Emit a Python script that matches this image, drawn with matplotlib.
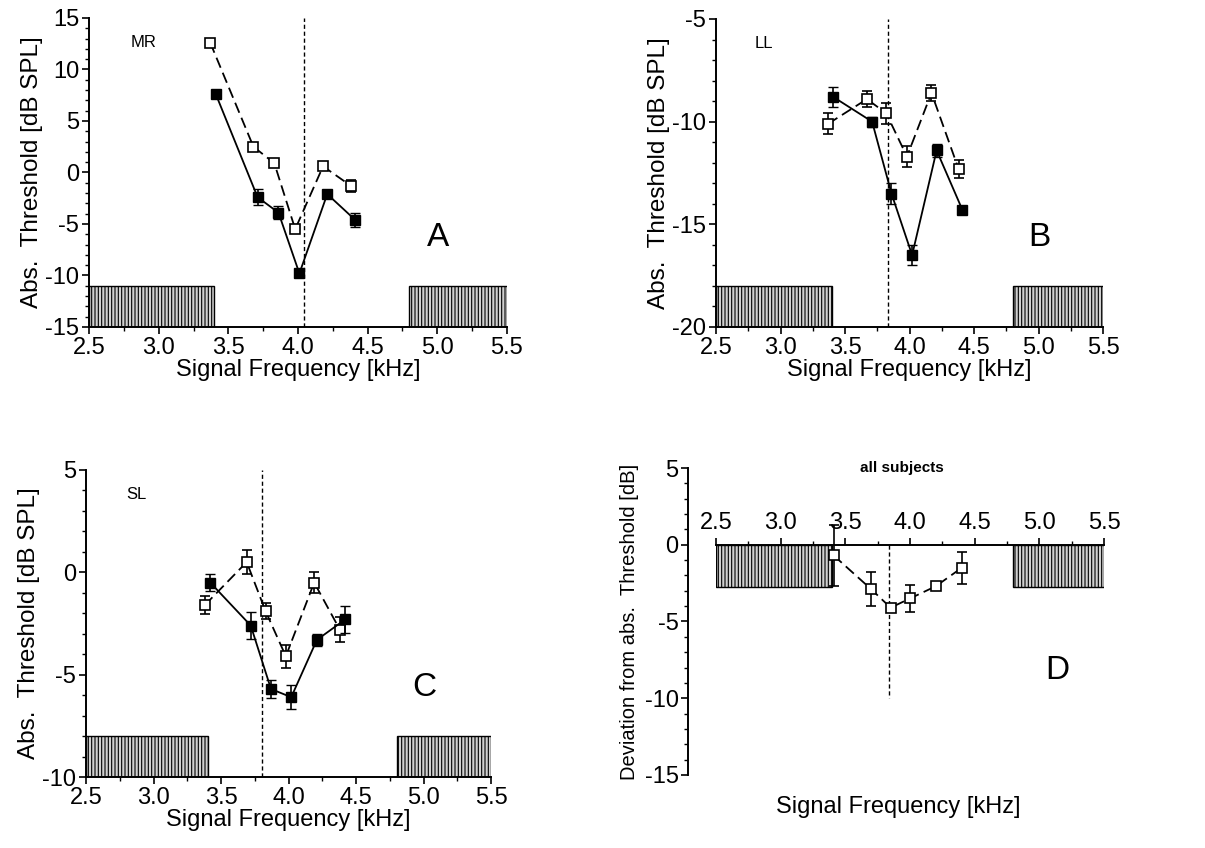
import matplotlib as mpl
import matplotlib.pyplot as plt
import numpy as np

plt.switch_backend('agg')

#%% =====================================
#   Data
#   =====================================
# noise bands [kHz]
BAND_LO = [2.5, 4.8]
BAND_HI = [3.4, 5.5]

# --- A: MR
A_X_OPEN = [3.37, 3.68, 3.83, 3.98, 4.18, 4.38]
A_Y_OPEN = [12.6, 2.5, 0.9, -5.5, 0.6, -1.3]
A_E_OPEN = [0.4, 0.3, 0.3, 0.2, 0.3, 0.6]
A_X_FILL = [3.41, 3.71, 3.86, 4.01, 4.21, 4.41]
A_Y_FILL = [7.6, -2.4, -3.9, -9.8, -2.1, -4.6]
A_E_FILL = [0.3, 0.8, 0.6, 0.3, 0.3, 0.7]
A_PROBE = 4.04

# --- B: LL
B_X_OPEN = [3.37, 3.67, 3.82, 3.98, 4.17, 4.38]
B_Y_OPEN = [-10.1, -8.9, -9.6, -11.7, -8.6, -12.3]
B_E_OPEN = [0.5, 0.4, 0.5, 0.5, 0.4, 0.45]
B_X_FILL = [3.41, 3.71, 3.86, 4.02, 4.21, 4.41]
B_Y_FILL = [-8.8, -10.0, -13.5, -16.5, -11.4, -14.3]
B_E_FILL = [0.5, 0.25, 0.5, 0.5, 0.3, 0.15]
B_PROBE = 3.83

# --- C: SL
C_X_OPEN = [3.38, 3.69, 3.83, 3.98, 4.19, 4.38]
C_Y_OPEN = [-1.6, 0.5, -1.9, -4.1, -0.5, -2.8]
C_E_OPEN = [0.45, 0.6, 0.4, 0.55, 0.5, 0.6]
C_X_FILL = [3.42, 3.72, 3.87, 4.02, 4.21, 4.42]
C_Y_FILL = [-0.5, -2.6, -5.7, -6.1, -3.3, -2.3]
C_E_FILL = [0.4, 0.65, 0.45, 0.6, 0.3, 0.65]
C_PROBE = 3.80

# --- D: all subjects (deviation)
D_X = [3.41, 3.70, 3.85, 4.00, 4.20, 4.40]
D_Y = [-0.7, -2.9, -4.1, -3.5, -2.7, -1.5]
D_E = [2.0, 1.1, 0.2, 0.85, 0.1, 1.05]
D_PROBE = 3.84


#%% =====================================
#   Helpers
#   =====================================
def draw_bands(ax, y0, y1):
    for lo, hi in zip(BAND_LO, BAND_HI):
        ax.bar(lo, y1 - y0, width=hi - lo, bottom=y0, align='edge',
               facecolor='#d0d0d0', edgecolor='black', hatch='|||||',
               linewidth=1.0, zorder=1)


def style_axes(ax, ymin, ymax, ystep):
    for s in ['top', 'right']:
        ax.spines[s].set_visible(False)
    ax.set_xlim(2.5, 5.5)
    ax.set_ylim(ymin, ymax)
    ax.set_xticks(np.arange(2.5, 5.51, 0.5))
    ax.set_xticks(np.arange(2.75, 5.5, 0.5), minor=True)
    ax.set_yticks(np.arange(ymin, ymax + 0.1, ystep))
    ax.set_yticks(np.arange(ymin, ymax + 0.1, 1), minor=True)
    ax.xaxis.set_major_formatter(mpl.ticker.FormatStrFormatter('%.1f'))
    ax.yaxis.set_major_formatter(mpl.ticker.FormatStrFormatter('%d'))
    ax.tick_params(which='major', direction='out', length=5, width=1.2, labelsize=17, pad=2)
    ax.tick_params(which='minor', direction='out', length=3, width=1.0)
    for s in ['left', 'bottom', 'top']:
        ax.spines[s].set_linewidth(1.4)


def plot_panel(ax, xo, yo, eo, xf, yf, ef, probe, ymin, ymax, band_top, subj, letter):
    draw_bands(ax, ymin, band_top)
    ax.axvline(probe, color='black', ls=(0, (3, 2)), lw=1.0, zorder=2)
    ax.errorbar(xo, yo, yerr=eo, color='black', ls=(0, (6, 3)), lw=1.3,
                marker='s', ms=6.5, mfc='white', mec='black', mew=1.2,
                capsize=3.5, elinewidth=1.2, zorder=4)
    ax.errorbar(xf, yf, yerr=ef, color='black', ls='-', lw=1.3,
                marker='s', ms=7, mfc='black', mec='black',
                capsize=3.5, elinewidth=1.2, zorder=5)
    style_axes(ax, ymin, ymax, 5)
    ax.set_xlabel('Signal Frequency [kHz]', fontsize=17, labelpad=0)
    ax.set_ylabel('Abs.  Threshold [dB SPL]', fontsize=17.5, labelpad=2)
    ax.text(0.10, 0.92, subj, transform=ax.transAxes, fontsize=12, va='center')
    ax.text(0.835, 0.29, letter, transform=ax.transAxes, fontsize=24, ha='center', va='center')


#%% =====================================
#   Figure
#   =====================================
plt.rcParams['font.family'] = ['Liberation Sans', 'DejaVu Sans']
plt.rcParams['hatch.linewidth'] = 0.8
plt.rcParams['axes.unicode_minus'] = False

fig = plt.figure(figsize=(12.05, 8.48), dpi=100)

axA = fig.add_axes([0.0739, 0.6144, 0.3468, 0.3644])
plot_panel(axA, A_X_OPEN, A_Y_OPEN, A_E_OPEN, A_X_FILL, A_Y_FILL, A_E_FILL,
           A_PROBE, -15, 15, -11, 'MR', 'A')

axB = fig.add_axes([0.5942, 0.6144, 0.3212, 0.3632])
plot_panel(axB, B_X_OPEN, B_Y_OPEN, B_E_OPEN, B_X_FILL, B_Y_FILL, B_E_FILL,
           B_PROBE, -20, -5, -18, 'LL', 'B')

axC = fig.add_axes([0.0714, 0.0837, 0.3361, 0.3621])
plot_panel(axC, C_X_OPEN, C_Y_OPEN, C_E_OPEN, C_X_FILL, C_Y_FILL, C_E_FILL,
           C_PROBE, -10, 5, -8, 'SL', 'C')

# panel D - deviation, frequency axis drawn along zero with labels above it
axD = fig.add_axes([0.5942, 0.0861, 0.3220, 0.3620])
draw_bands(axD, -2.75, 0)
axD.plot([D_PROBE, D_PROBE], [0, -10], color='black', ls=(0, (3, 2)), lw=1.0, zorder=2)
axD.errorbar(D_X, D_Y, yerr=D_E, color='black', ls=(0, (6, 3)), lw=1.3,
             marker='s', ms=6.5, mfc='white', mec='black', mew=1.2,
             capsize=3.5, elinewidth=1.2, zorder=4)
style_axes(axD, -15, 5, 5)
axD.spines['bottom'].set_visible(False)
axD.spines['top'].set_visible(True)
axD.spines['top'].set_position(('data', 0))
axD.spines['left'].set_position(('outward', 20))
axD.xaxis.set_ticks_position('top')
axD.tick_params(axis='x', which='both', direction='out', labeltop=True, labelbottom=False, pad=3)
axD.set_ylabel('Deviation from abs.  Threshold [dB]', fontsize=14.5, labelpad=4)
axD.text(0.47, -0.105, 'Signal Frequency [kHz]', transform=axD.transAxes,
         fontsize=17, ha='center', va='center')
axD.text(0.48, 1.0, 'all subjects', transform=axD.transAxes, fontsize=11,
         fontweight='bold', ha='center', va='center')
axD.text(0.88, 0.34, 'D', transform=axD.transAxes, fontsize=24, ha='center', va='center')

plt.savefig('out.png', dpi=100)
plt.close()
